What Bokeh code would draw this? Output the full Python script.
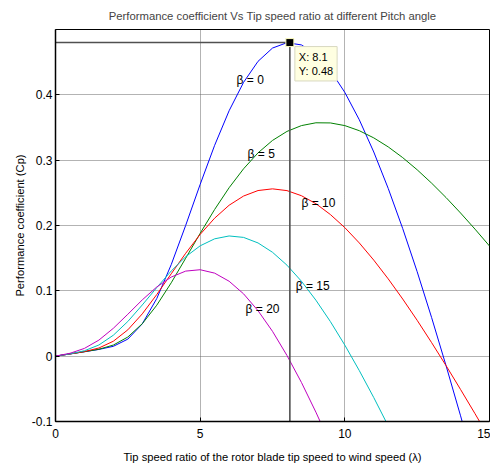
from bokeh.plotting import figure
from bokeh.models import Range1d, FixedTicker, Label, ColumnDataSource
from bokeh.core.properties import value
from bokeh.embed import file_html
from bokeh.resources import INLINE

# ---- data ----
lam = [0, 0.5, 1.0, 1.5, 2.0, 2.5, 3.0, 3.5, 4.0, 4.5, 5.0, 5.5, 6.0, 6.5, 7.0, 7.5,
       8.0, 8.5, 9.0, 9.5, 10.0, 10.5, 11.0, 11.5, 12.0, 12.5, 13.0, 13.5, 14.0, 14.5, 15.0]

cp_beta0 = [0, 0.0034, 0.0068, 0.0103, 0.0151, 0.0261, 0.0495, 0.0882, 0.1401, 0.2002,
            0.2629, 0.3227, 0.3756, 0.4191, 0.4513, 0.4716, 0.4798, 0.4764, 0.4620, 0.4374,
            0.4037, 0.3618, 0.3125, 0.2567, 0.1954, 0.1293, 0.0590, -0.0148, -0.0913, -0.1703, -0.2512]
cp_beta5 = [0, 0.0034, 0.0068, 0.0106, 0.0170, 0.0293, 0.0497, 0.0780, 0.1123, 0.1499,
            0.1880, 0.2245, 0.2578, 0.2868, 0.3112, 0.3302, 0.3440, 0.3529, 0.3572, 0.3570,
            0.3529, 0.3451, 0.3341, 0.3203, 0.3039, 0.2853, 0.2648, 0.2427, 0.2191, 0.1944, 0.1686]
cp_beta10 = [0, 0.0034, 0.0070, 0.0125, 0.0229, 0.0403, 0.0648, 0.0943, 0.1261, 0.1575,
             0.1864, 0.2112, 0.2310, 0.2451, 0.2535, 0.2561, 0.2534, 0.2456, 0.2334, 0.2168,
             0.1967, 0.1733, 0.1470, 0.1183, 0.0875, 0.0549, 0.0207, -0.0146, -0.0510, -0.0881, -0.1259]
cp_beta15 = [0, 0.0035, 0.0083, 0.0171, 0.0321, 0.0531, 0.0784, 0.1050, 0.1304, 0.1522,
             0.1689, 0.1796, 0.1840, 0.1818, 0.1733, 0.1590, 0.1393, 0.1147, 0.0857, 0.0530,
             0.0169, -0.0221, -0.0634, -0.1068, -0.1519]
cp_beta20 = [0.0001, 0.0044, 0.0119, 0.0246, 0.0427, 0.0642, 0.0862, 0.1059, 0.1211, 0.1302,
             0.1323, 0.1271, 0.1147, 0.0954, 0.0696, 0.0380, 0.0011, -0.0402, -0.0857, -0.1344]

series_names = ["β = 0", "β = 5", "β = 10", "β = 15", "β = 20"]
series_colors = ["#0000FF", "#008000", "#FF0000", "#00BFBF", "#BF00BF"]

tip_x = 8.1
tip_y = 0.48

x_ticks = [0, 5, 10, 15]
x_tick_labels = ["0", "5", "10", "15"]
y_ticks = [-0.1, 0, 0.1, 0.2, 0.3, 0.4]
y_tick_labels = ["-0.1", "0", "0.1", "0.2", "0.3", "0.4"]

# annotation positions for the curve labels (data units)
label_x = [6.26, 6.64, 8.50, 8.30, 6.57]
label_y = [0.422, 0.310, 0.235, 0.108, 0.0715]

FONT = "Liberation Sans"

p = figure(width=490, height=465, output_backend="svg", toolbar_location=None,
           x_range=Range1d(0, 15), y_range=Range1d(-0.1, 0.5),
           min_border_left=55, min_border_right=1, min_border_top=29, min_border_bottom=44,
           background_fill_color="white", border_fill_color="white")

p.title.text = "Performance coefficient Vs Tip speed ratio at different Pitch angle"
p.title.align = "center"
p.title.text_font = FONT
p.title.text_font_size = "11.3px"
p.title.text_font_style = "normal"
p.title.standoff = 15
p.title.offset = 0

p.outline_line_color = "black"
p.outline_line_width = 1

for ax in (p.xaxis[0], p.yaxis[0]):
    ax.major_tick_in = 4
    ax.major_tick_out = 0
    ax.minor_tick_line_color = None
    ax.axis_line_color = "black"
    ax.axis_line_width = 1.5
    ax.major_tick_line_color = "black"
    ax.major_label_text_font = FONT
    ax.major_label_text_font_size = "12px"
    ax.major_label_text_color = "black"
    ax.axis_label_text_font = FONT
    ax.axis_label_text_font_size = "11.2px"
    ax.axis_label_text_font_style = "normal"
    ax.axis_label_text_color = "black"

p.xaxis.ticker = FixedTicker(ticks=x_ticks)
p.xaxis.major_label_overrides = {t: s for t, s in zip(x_ticks, x_tick_labels)}
p.yaxis.ticker = FixedTicker(ticks=y_ticks)
p.yaxis.major_label_overrides = {t: s for t, s in zip(y_ticks, y_tick_labels)}
p.xaxis.major_label_standoff = 7
p.yaxis.major_label_standoff = 3
p.xaxis.axis_label_standoff = 10
p.yaxis.axis_label_standoff = 3
p.xaxis.axis_label = "Tip speed ratio of the rotor blade tip speed to wind speed (λ)"
p.yaxis.axis_label = "Performance coefficient (Cp)"

for g in (p.xgrid[0], p.ygrid[0]):
    g.grid_line_color = "#666666"
    g.grid_line_dash = "1 1"
    g.grid_line_width = 1

all_cp = [cp_beta0, cp_beta5, cp_beta10, cp_beta15, cp_beta20]
for cp, col in zip(all_cp, series_colors):
    p.line(lam[:len(cp)], cp, line_color=col, line_width=1)

# data cursor guide lines
p.line([0, tip_x], [tip_y, tip_y], line_color="#505050", line_width=1.6)
p.line([tip_x, tip_x], [-0.1, tip_y], line_color="#505050", line_width=1.6)
p.scatter([tip_x], [tip_y], marker="square", size=8, fill_color="black",
          line_color="#FFFFC0", line_width=1)

p.add_layout(Label(x=tip_x, y=tip_y, x_offset=5, y_offset=-4,
                   text=f"X: {tip_x}\nY: {tip_y}", anchor="top_left",
                   text_font=FONT, text_font_size="11px", text_color="black",
                   background_fill_color="#FFFFE1", border_line_color="#D8D8C0",
                   padding=4))

src = ColumnDataSource(dict(x=label_x, y=label_y, t=series_names))
p.text("x", "y", text="t", source=src, text_font=value(FONT), text_font_size="12px",
       text_color="black", text_align="left", text_baseline="middle")

open("out.html", "w").write(file_html(p, INLINE))
